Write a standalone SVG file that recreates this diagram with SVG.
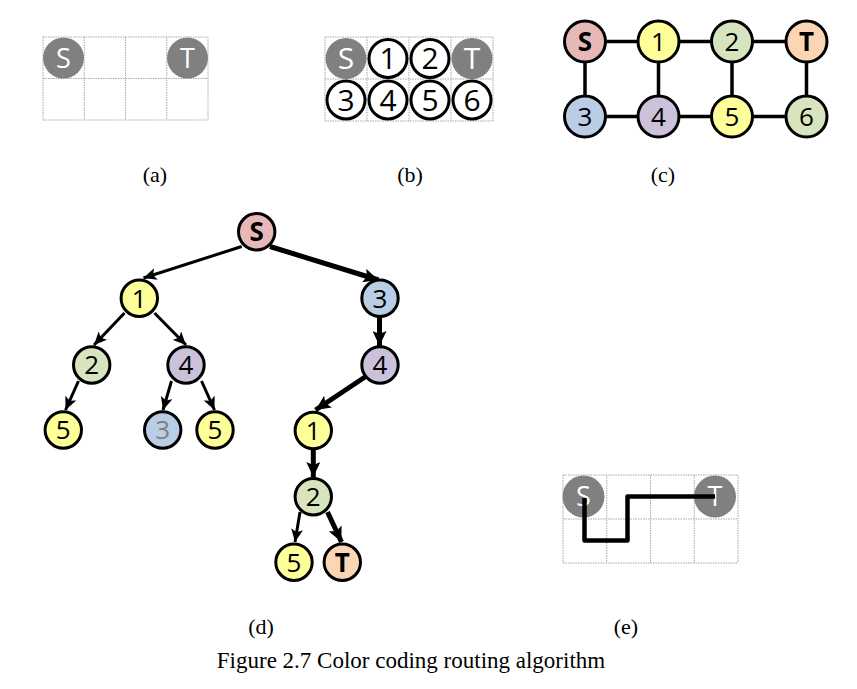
<svg xmlns="http://www.w3.org/2000/svg" width="857" height="689" viewBox="0 0 857 689">
<defs>
<style>
.grid{stroke:#a6a6a6;stroke-width:1;stroke-dasharray:1.5,1;fill:none}
.g{fill:#808080}
.wt{font-family:"Open Sans","Liberation Sans",sans-serif;fill:#fff;text-anchor:middle}
.lb{font-family:"Open Sans","Liberation Sans",sans-serif;fill:#000;text-anchor:middle;font-size:26px}
.lbb{font-family:"Open Sans","Liberation Sans",sans-serif;fill:#000;text-anchor:middle;font-size:30px}
.nd{stroke:#000;stroke-width:3}
.pk{fill:#e6b9b8}.yl{fill:#ffff99}.gr{fill:#d7e4bd}.pc{fill:#fcd5b5}.bl{fill:#b9cde5}.pu{fill:#ccc1da}.wh{fill:#fff}
.edge{stroke:#000;stroke-width:3.5;fill:none}
.thin{stroke:#000;stroke-width:3;fill:none;marker-end:url(#ah)}
.thick{stroke:#000;stroke-width:5;fill:none;marker-end:url(#ahb)}
.cap{font-family:"Liberation Serif","Times New Roman",serif;font-size:22px;fill:#000;text-anchor:middle}
</style>
<marker id="ah" markerUnits="userSpaceOnUse" markerWidth="14" markerHeight="12" refX="13" refY="6" orient="auto" viewBox="0 0 14 12">
<path d="M0,0 L13,6 L0,12 L3,6 z" fill="#000"/>
</marker>
<marker id="ahb" markerUnits="userSpaceOnUse" markerWidth="16" markerHeight="14" refX="15" refY="7" orient="auto" viewBox="0 0 16 14">
<path d="M0,0 L15,7 L0,14 L3,7 z" fill="#000"/>
</marker>
</defs>
<rect width="857" height="689" fill="#fff"/>

<!-- Panel (a) -->
<g id="panel-a">
<path class="grid" d="M43,37H208M43,78.5H208M43,120H208M43,37V120M84.25,37V120M125.5,37V120M166.75,37V120M208,37V120"/>
<g id="a-S"><circle class="g" cx="63.5" cy="58" r="20.5"/><text class="wt" x="63.5" y="67.5" font-size="27">S</text></g>
<g id="a-T"><circle class="g" cx="187.5" cy="58" r="20.5"/><text class="wt" x="187.5" y="67.5" font-size="27">T</text></g>
</g>

<!-- Panel (b) -->
<g id="panel-b">
<path class="grid" d="M325,37H493M325,79H493M325,121H493M325,37V121M367,37V121M409,37V121M451,37V121M493,37V121"/>
<g id="b-S"><circle class="g" cx="346" cy="58.5" r="20.5"/><text class="wt" x="346" y="69" font-size="30">S</text></g>
<g id="b-1"><circle class="nd wh" cx="388" cy="58.5" r="19"/><text class="lbb" x="388" y="69">1</text></g>
<g id="b-2"><circle class="nd wh" cx="430" cy="58.5" r="19"/><text class="lbb" x="430" y="69">2</text></g>
<g id="b-T"><circle class="g" cx="472" cy="58.5" r="20.5"/><text class="wt" x="472" y="69" font-size="30">T</text></g>
<g id="b-3"><circle class="nd wh" cx="346" cy="100" r="19"/><text class="lbb" x="346" y="110.5">3</text></g>
<g id="b-4"><circle class="nd wh" cx="388" cy="100" r="19"/><text class="lbb" x="388" y="110.5">4</text></g>
<g id="b-5"><circle class="nd wh" cx="430" cy="100" r="19"/><text class="lbb" x="430" y="110.5">5</text></g>
<g id="b-6"><circle class="nd wh" cx="472" cy="100" r="19"/><text class="lbb" x="472" y="110.5">6</text></g>
</g>

<!-- Panel (c) -->
<g id="c-edges">
<path class="edge" d="M585,41.5H806.5M585,116.5H806.5M585,41.5V116.5M658.5,41.5V116.5M732,41.5V116.5M806.5,41.5V116.5"/>
</g>
<g id="c-S"><circle class="nd pk" cx="585" cy="41.5" r="20.5"/><text class="lb" x="585" y="51" font-weight="bold">S</text></g>
<g id="c-1"><circle class="nd yl" cx="658.5" cy="41.5" r="20.5"/><text class="lb" x="658.5" y="51">1</text></g>
<g id="c-2"><circle class="nd gr" cx="732" cy="41.5" r="20.5"/><text class="lb" x="732" y="51">2</text></g>
<g id="c-T"><circle class="nd pc" cx="806.5" cy="41.5" r="20.5"/><text class="lb" x="806.5" y="51" font-weight="bold">T</text></g>
<g id="c-3"><circle class="nd bl" cx="585" cy="116.5" r="20.5"/><text class="lb" x="585" y="126">3</text></g>
<g id="c-4"><circle class="nd pu" cx="658.5" cy="116.5" r="20.5"/><text class="lb" x="658.5" y="126">4</text></g>
<g id="c-5"><circle class="nd yl" cx="732" cy="116.5" r="20.5"/><text class="lb" x="732" y="126">5</text></g>
<g id="c-6"><circle class="nd gr" cx="806.5" cy="116.5" r="20.5"/><text class="lb" x="806.5" y="126">6</text></g>

<!-- Panel (d) connectors -->
<g id="d-connectors">
<line class="thin" x1="241.7" y1="246.5" x2="143.5" y2="278"/>
<line class="thick" x1="270" y1="246.5" x2="378.5" y2="280"/>
<line class="thin" x1="124.5" y1="313" x2="94" y2="345"/>
<line class="thin" x1="154.5" y1="313" x2="186" y2="345"/>
<line class="thick" x1="379.5" y1="317" x2="379.5" y2="346"/>
<line class="thin" x1="78.5" y1="381" x2="65.5" y2="410"/>
<line class="thin" x1="171.5" y1="381" x2="163" y2="410"/>
<line class="thin" x1="201.5" y1="381" x2="214.5" y2="410"/>
<line class="thick" x1="365" y1="377" x2="315.5" y2="410"/>
<line class="thick" x1="313.3" y1="449" x2="313.3" y2="477"/>
<line class="thin" x1="300" y1="512" x2="295" y2="542"/>
<line class="thick" x1="327.5" y1="512" x2="341.5" y2="542"/>
</g>

<!-- Panel (d) nodes -->
<g id="d-S"><circle class="nd pk" cx="256.7" cy="231.7" r="18.2"/><text class="lb" x="256.7" y="241" font-weight="bold">S</text></g>
<g id="d-1a"><circle class="nd yl" cx="139.3" cy="298.3" r="18.2"/><text class="lb" x="139.3" y="307.6">1</text></g>
<g id="d-3a"><circle class="nd bl" cx="380" cy="298.3" r="18.2"/><text class="lb" x="380" y="307.6">3</text></g>
<g id="d-2a"><circle class="nd gr" cx="91.7" cy="365" r="18.2"/><text class="lb" x="91.7" y="374.3">2</text></g>
<g id="d-4a"><circle class="nd pu" cx="186" cy="365" r="18.2"/><text class="lb" x="186" y="374.3">4</text></g>
<g id="d-4b"><circle class="nd pu" cx="380" cy="365" r="18.2"/><text class="lb" x="380" y="374.3">4</text></g>
<g id="d-5a"><circle class="nd yl" cx="63.3" cy="430" r="18.2"/><text class="lb" x="63.3" y="439.3">5</text></g>
<g id="d-3b"><circle class="nd bl" cx="162.7" cy="430" r="18.2"/><text class="lb" x="162.7" y="439.3" style="fill:#808080">3</text></g>
<g id="d-5b"><circle class="nd yl" cx="215" cy="430" r="18.2"/><text class="lb" x="215" y="439.3">5</text></g>
<g id="d-1b"><circle class="nd yl" cx="313.3" cy="430.5" r="18.2"/><text class="lb" x="313.3" y="439.8">1</text></g>
<g id="d-2b"><circle class="nd gr" cx="313.3" cy="496.7" r="18.2"/><text class="lb" x="313.3" y="506">2</text></g>
<g id="d-5c"><circle class="nd yl" cx="294" cy="562.3" r="18.2"/><text class="lb" x="294" y="571.6">5</text></g>
<g id="d-T"><circle class="nd pc" cx="342.3" cy="562.3" r="18.2"/><text class="lb" x="342.3" y="571.6" font-weight="bold">T</text></g>

<!-- Panel (e) -->
<g id="panel-e">
<path class="grid" d="M563,475H738M563,519H738M563,563H738M563,475V563M606.75,475V563M650.5,475V563M694.25,475V563M738,475V563"/>
<g id="e-S"><circle class="g" cx="583.5" cy="496.5" r="21"/><text class="wt" x="583.5" y="506" font-size="27">S</text></g>
<g id="e-T"><circle class="g" cx="715" cy="496.5" r="21"/><text class="wt" x="715" y="506" font-size="27">T</text></g>
<path d="M584.5,498V540.5H627.5V496.5H715" fill="none" stroke="#000" stroke-width="4.5" stroke-linejoin="round"/>
</g>

<!-- Captions -->
<text class="cap" x="155" y="182">(a)</text>
<text class="cap" x="410" y="182">(b)</text>
<text class="cap" x="663" y="182">(c)</text>
<text class="cap" x="261" y="634">(d)</text>
<text class="cap" x="626" y="634">(e)</text>
<text class="cap" x="411" y="668" style="font-size:23px">Figure 2.7 Color coding routing algorithm</text>
</svg>
